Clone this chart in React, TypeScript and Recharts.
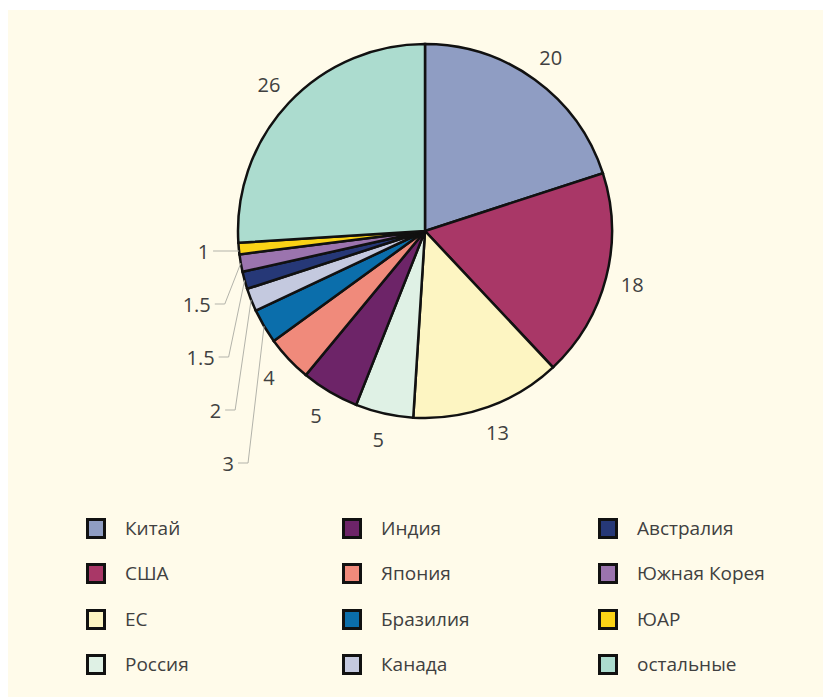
import { PieChart, Pie, Cell } from 'recharts';

// доли, %
const countries = ['Китай', 'США', 'ЕС', 'Россия', 'Индия', 'Япония', 'Бразилия', 'Канада', 'Австралия', 'Южная Корея', 'ЮАР', 'остальные'];
const shares = [20, 18, 13, 5, 5, 4, 3, 2, 1.5, 1.5, 1, 26];
const colors = ['#8f9dc3', '#a93767', '#fdf5c2', '#dff1e5', '#6d2468', '#f08a7b', '#0b6eab', '#c4c9df', '#263877', '#9b74ae', '#fbd316', '#acdccf'];

const data = countries.map((name, i) => ({ name, value: shares[i] }));

const FONT = '"Open Sans", "Noto Sans", sans-serif';
const TEXT = '#404040';
const RADIAN = Math.PI / 180;

const renderLabel = (props: any) => {
  const { cx, cy, midAngle, outerRadius, value, index } = props;
  const cos = Math.cos(-midAngle * RADIAN);
  const sin = Math.sin(-midAngle * RADIAN);
  const isSmall = value < 3.5 && index !== data.length - 1;

  if (!isSmall) {
    const r = outerRadius + 27;
    return (
      <text x={cx + r * cos} y={cy + r * sin} fill={TEXT} fontSize={20} fontFamily={FONT}
        textAnchor="middle" dominantBaseline="central">
        {value}
      </text>
    );
  }

  // мелкие доли — подписи столбиком слева с выносными линиями
  let k = 0;
  for (let j = index + 1; j < data.length - 1; j++) if (data[j].value < 3.5) k++;
  const ly = cy + 20 + 53 * k;
  const ex = cx + outerRadius * cos;
  const ey = cy + outerRadius * sin;
  let pts: string;
  let endX: number;
  if (k === 0) {
    const hx = cx - Math.sqrt(outerRadius * outerRadius - (ly - cy) * (ly - cy));
    endX = hx - 26;
    pts = `${hx},${ly} ${endX},${ly}`;
  } else {
    const elbow = ex - 16;
    endX = elbow - 10;
    pts = `${ex},${ey} ${elbow},${ly} ${endX},${ly}`;
  }
  return (
    <g>
      <polyline points={pts} fill="none" stroke="#b3b3aa" strokeWidth={1} />
      <text x={endX - 4} y={ly} fill={TEXT} fontSize={20} fontFamily={FONT}
        textAnchor="end" dominantBaseline="central">
        {value}
      </text>
    </g>
  );
};

export default function App() {
  const colX = [78, 334, 590];
  const rowY = [518, 563, 609, 654];
  return (
    <div style={{ position: 'absolute', left: 8, top: 10, width: 815, height: 687, background: '#fffbea', overflow: 'hidden' }}>
      <PieChart width={815} height={687} margin={{ top: 0, right: 0, bottom: 0, left: 0 }}>
        <Pie
          data={data}
          dataKey="value"
          nameKey="name"
          cx={417}
          cy={221}
          outerRadius={187}
          startAngle={90}
          endAngle={-270}
          stroke="#111"
          strokeWidth={2.5}
          label={renderLabel}
          labelLine={false}
          isAnimationActive={false}
        >
          {data.map((d, i) => (
            <Cell key={d.name} fill={colors[i]} />
          ))}
        </Pie>
      </PieChart>
      {data.map((d, i) => {
        const col = Math.floor(i / 4);
        const row = i % 4;
        return (
          <div key={d.name} style={{ position: 'absolute', left: colX[col], top: rowY[row] - 12, height: 24, display: 'flex', alignItems: 'center' }}>
            <div style={{ width: 20, height: 21, boxSizing: 'border-box', border: '3px solid #111', background: colors[i] }} />
            <span style={{ marginLeft: 19, fontFamily: FONT, fontSize: 19, color: TEXT }}>{d.name}</span>
          </div>
        );
      })}
    </div>
  );
}
